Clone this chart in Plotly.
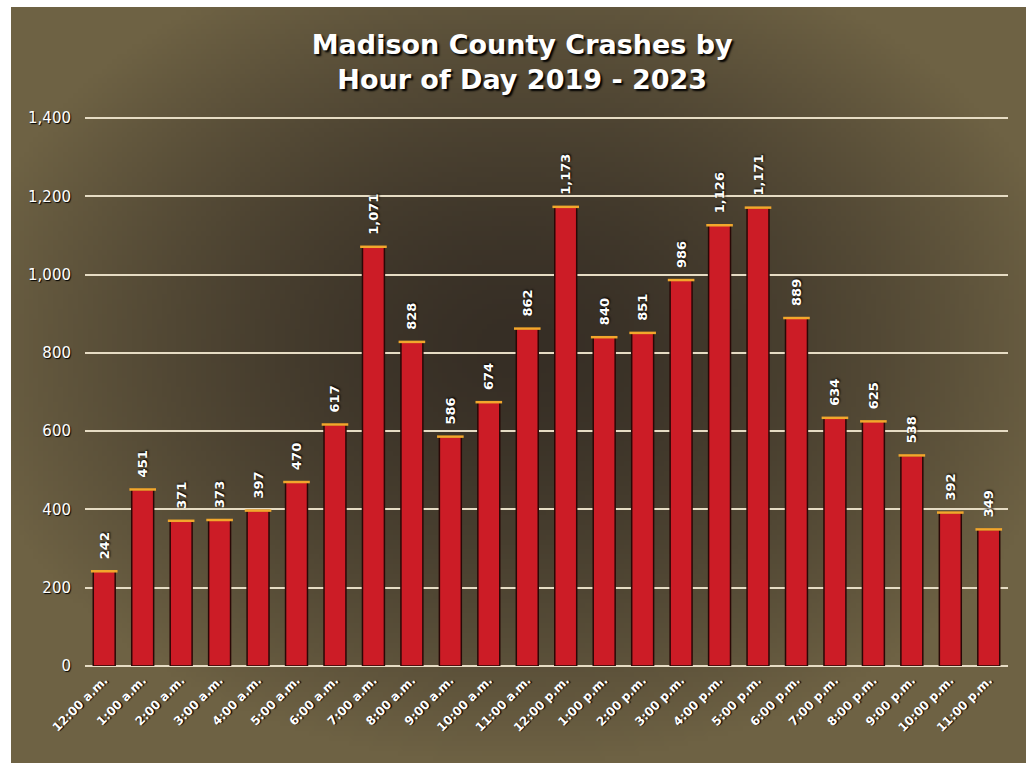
import base64
import struct
import zlib

import numpy as np
import plotly.graph_objects as go

hours = [
    "12:00 a.m.", "1:00 a.m.", "2:00 a.m.", "3:00 a.m.", "4:00 a.m.", "5:00 a.m.",
    "6:00 a.m.", "7:00 a.m.", "8:00 a.m.", "9:00 a.m.", "10:00 a.m.", "11:00 a.m.",
    "12:00 p.m.", "1:00 p.m.", "2:00 p.m.", "3:00 p.m.", "4:00 p.m.", "5:00 p.m.",
    "6:00 p.m.", "7:00 p.m.", "8:00 p.m.", "9:00 p.m.", "10:00 p.m.", "11:00 p.m.",
]
crashes = [
    242, 451, 371, 373, 397, 470, 617, 1071, 828, 586, 674, 862,
    1173, 840, 851, 986, 1126, 1171, 889, 634, 625, 538, 392, 349,
]
y_ticks = [0, 200, 400, 600, 800, 1000, 1200, 1400]
y_tick_text = ["0", "200", "400", "600", "800", "1,000", "1,200", "1,400"]

W, H = 1026, 767
FONT = "DejaVu Sans"


def png_data_uri(rgb):
    """Encode an (h, w, 3) uint8 array as a PNG data URI."""
    h, w, _ = rgb.shape
    raw = b"".join(b"\x00" + rgb[r].tobytes() for r in range(h))

    def chunk(tag, data):
        c = struct.pack(">I", len(data)) + tag + data
        return c + struct.pack(">I", zlib.crc32(tag + data) & 0xFFFFFFFF)

    png = b"\x89PNG\r\n\x1a\n"
    png += chunk(b"IHDR", struct.pack(">IIBBBBB", w, h, 8, 2, 0, 0, 0))
    png += chunk(b"IDAT", zlib.compress(raw, 9))
    png += chunk(b"IEND", b"")
    return "data:image/png;base64," + base64.b64encode(png).decode()


# Dark brown vignette backdrop: olive at the edges, deep brown in the middle
gw, gh = 206, 154
yy, xx = np.mgrid[0:gh, 0:gw]
dx = (xx / (gw - 1) - 0.5) / 0.55
dy = (yy / (gh - 1) - 0.45) / 0.55
r = np.clip(np.sqrt(dx ** 2 + dy ** 2), 0, 1)
t = r ** 1.5
inner = np.array([54, 46, 37], dtype=float)
outer = np.array([110, 98, 68], dtype=float)
img = inner[None, None, :] * (1 - t[..., None]) + outer[None, None, :] * t[..., None]
bg_uri = png_data_uri(img.clip(0, 255).astype(np.uint8))

fig = go.Figure()

# Leading no-break spaces lift each rotated value label a little off its bar
labels = ["\u00a0\u00a0" + f"{v:,}" for v in crashes]

fig.add_trace(go.Bar(
    x=hours,
    y=crashes,
    marker=dict(color="#cc1c26", line=dict(color="#2a0806", width=1.5)),
    text=labels,
    textposition="outside",
    textangle=-90,
    constraintext="none",
    textfont=dict(family=FONT, size=13, color="white", weight="bold",
                  shadow="1px 1px 2px #000000"),
    cliponaxis=False,
    width=0.57,
    hoverinfo="x+y",
))

# Bright rim along the top edge of each bar
fig.add_trace(go.Scatter(
    x=hours,
    y=crashes,
    mode="markers",
    marker=dict(symbol="line-ew", size=19, line=dict(color="#f2a72c", width=2.5)),
    hoverinfo="skip",
    showlegend=False,
    cliponaxis=False,
))

left_px, right_px = 85, 1008
y_max = 1404
px_per_unit = (666 - 118) / 1400
bottom_px = 666
top_px = bottom_px - y_max * px_per_unit

fig.update_layout(
    width=W,
    height=H,
    margin=dict(l=0, r=0, t=0, b=0, autoexpand=False),
    paper_bgcolor="white",
    plot_bgcolor="rgba(0,0,0,0)",
    showlegend=False,
    bargap=0.43,
    title=dict(
        text="Madison County Crashes by<br>Hour of Day 2019 - 2023",
        x=0.509,
        xanchor="center",
        y=1 - 54 / H,
        yanchor="middle",
        font=dict(family=FONT, size=27, color="white", weight="bold",
                  shadow="2px 2px 2px #000000"),
    ),
    xaxis=dict(
        domain=[left_px / W, right_px / W],
        range=[-0.5, len(hours) - 0.5],
        tickangle=-45,
        tickfont=dict(family=FONT, size=12, color="white", weight="bold",
                      shadow="1px 1px 1px #000000"),
        showgrid=False,
        showline=False,
        ticks="",
        ticklabelstandoff=4,
    ),
    yaxis=dict(
        domain=[1 - bottom_px / H, 1 - top_px / H],
        range=[0, y_max],
        tickvals=y_ticks,
        ticktext=y_tick_text,
        tickfont=dict(family=FONT, size=15, color="white",
                      shadow="1px 1px 1px #000000"),
        showgrid=True,
        gridcolor="#e6dcc4",
        gridwidth=2,
        zeroline=True,
        zerolinecolor="#e6dcc4",
        zerolinewidth=2,
        showline=False,
        ticks="",
        ticklabelstandoff=13,
    ),
    images=[dict(
        source=bg_uri,
        xref="paper", yref="paper",
        x=11 / W, y=1 - 7 / H,
        sizex=1 - 11 / W, sizey=(763 - 7) / H,
        xanchor="left", yanchor="top",
        sizing="stretch",
        layer="below",
    )],
)

fig.write_html("out.html")
